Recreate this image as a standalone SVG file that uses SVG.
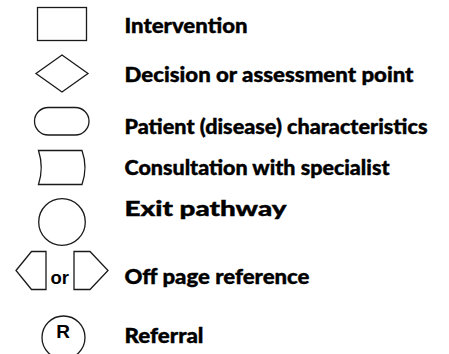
<svg xmlns="http://www.w3.org/2000/svg" width="449" height="354" viewBox="0 0 449 354">
<style>
.s{fill:#fff;stroke:#1a1a1a;stroke-width:1.3}
.t{font-family:Lato,"Liberation Sans",sans-serif;font-weight:900;font-size:21px;fill:#000;stroke:#000;stroke-width:0.4}
.a{font-family:"Liberation Sans",Arial,sans-serif;font-weight:bold;fill:#000}
</style>
<rect width="449" height="354" fill="#fff"/>
<g id="intervention">
<rect class="s" x="37.5" y="7.5" width="49" height="33"/>
<text class="t" x="124.5" y="33" textLength="123" lengthAdjust="spacingAndGlyphs">Intervention</text>
</g>
<g id="decision">
<polygon class="s" points="36,73.5 62,55 88,73.5 62,92"/>
<text class="t" x="124.5" y="82" textLength="289" lengthAdjust="spacingAndGlyphs">Decision or assessment point</text>
</g>
<g id="patient">
<rect class="s" x="34.5" y="107.5" width="54.5" height="27.5" rx="13.75"/>
<text class="t" x="124.5" y="134" textLength="303" lengthAdjust="spacingAndGlyphs">Patient (disease) characteristics</text>
</g>
<g id="consultation">
<path class="s" d="M38.5,150.5 L82,150.5 Q88,167.5 82,184.5 L38.5,184.5 Q44,167.5 38.5,150.5 Z"/>
<text class="t" x="124.5" y="175" textLength="265" lengthAdjust="spacingAndGlyphs">Consultation with specialist</text>
</g>
<g id="exit">
<circle class="s" cx="62" cy="222" r="23.3"/>
<text class="t" x="124.5" y="216" textLength="162" lengthAdjust="spacingAndGlyphs">Exit pathway</text>
</g>
<g id="offpage">
<polygon class="s" points="16,270.5 31.5,251.5 46,251.5 46,289.5 31.5,289.5"/>
<text class="a" x="50.5" y="283.5" font-size="18.5">or</text>
<polygon class="s" points="74,251.5 90,251.5 108,270.5 90,289.5 74,289.5"/>
<text class="t" x="124.5" y="284" textLength="185" lengthAdjust="spacingAndGlyphs">Off page reference</text>
</g>
<g id="referral">
<circle class="s" cx="63.5" cy="337.5" r="21.5"/>
<text class="a" x="63" y="337.5" font-size="19" text-anchor="middle">R</text>
<text class="t" x="124.5" y="343" textLength="79" lengthAdjust="spacingAndGlyphs">Referral</text>
</g>
<g id="connectors"></g>
</svg>
